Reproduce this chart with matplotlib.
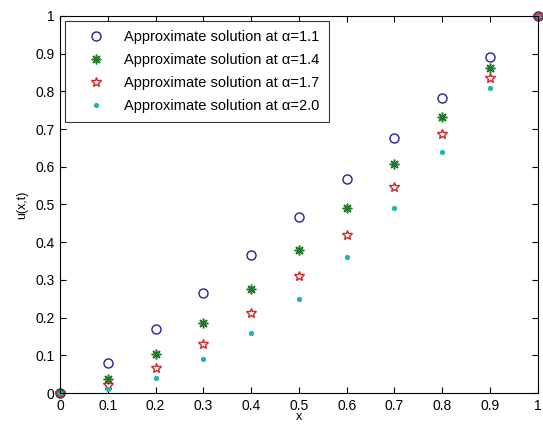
import numpy as np
import matplotlib
matplotlib.use("Agg")
import matplotlib.pyplot as plt

# values
x = [0, 0.1, 0.2, 0.3, 0.4, 0.5, 0.6, 0.7, 0.8, 0.9, 1.0]
u_a11 = [0, 0.080, 0.170, 0.265, 0.365, 0.468, 0.568, 0.676, 0.782, 0.890, 1.0]
u_a14 = [0, 0.038, 0.103, 0.186, 0.277, 0.379, 0.490, 0.607, 0.733, 0.862, 1.0]
u_a17 = [0, 0.020, 0.067, 0.130, 0.212, 0.310, 0.420, 0.546, 0.686, 0.836, 1.0]
u_a20 = [0, 0.010, 0.040, 0.090, 0.160, 0.250, 0.360, 0.490, 0.640, 0.810, 1.0]

ticks = [0, 0.1, 0.2, 0.3, 0.4, 0.5, 0.6, 0.7, 0.8, 0.9, 1]
tick_labels = ["0", "0.1", "0.2", "0.3", "0.4", "0.5", "0.6", "0.7", "0.8", "0.9", "1"]

plt.rcParams["font.family"] = ["Liberation Sans", "DejaVu Sans"]

fig = plt.figure(figsize=(5.43, 4.3), dpi=100)
ax = fig.add_axes([0.1105, 0.086, 0.88, 0.877])

ax.plot(x, u_a11, "o", color="#22229a", markerfacecolor="none", markersize=6.5,
        markeredgewidth=1.0, clip_on=False, label="Approximate solution at \u03b1=1.1")
ax.plot(x, u_a14, marker=(8, 2, 0), linestyle="none", color="#1f7a2a",
        markersize=7, markeredgewidth=1.1, clip_on=False,
        label="Approximate solution at \u03b1=1.4")
ax.plot(x, u_a17, "*", color="#d42626", markerfacecolor="none", markersize=7.5,
        markeredgewidth=1.0, clip_on=False, label="Approximate solution at \u03b1=1.7")
ax.plot(x, u_a20, ".", color="#1fb3b3", markersize=5.5, clip_on=False,
        label="Approximate solution at \u03b1=2.0")

ax.set_xlim(0, 1)
ax.set_ylim(0, 1)
ax.set_xticks(ticks)
ax.set_xticklabels(tick_labels)
ax.set_yticks(ticks)
ax.set_yticklabels(tick_labels)
ax.tick_params(direction="in", top=True, right=True, labelsize=10, length=4,
               pad=4)
for s in ax.spines.values():
    s.set_linewidth(0.8)

ax.set_xlabel("x", fontsize=9, labelpad=-1)
ax.set_ylabel("u(x,t)", fontsize=9, labelpad=5)

leg = ax.legend(loc="upper left", fontsize=10.5, frameon=True, fancybox=False,
                edgecolor="black", numpoints=1, handlelength=3.0,
                handletextpad=0.4, borderpad=0.65, labelspacing=0.6,
                borderaxespad=0.35)
leg.get_frame().set_linewidth(0.8)

fig.savefig("out.png", dpi=100)
